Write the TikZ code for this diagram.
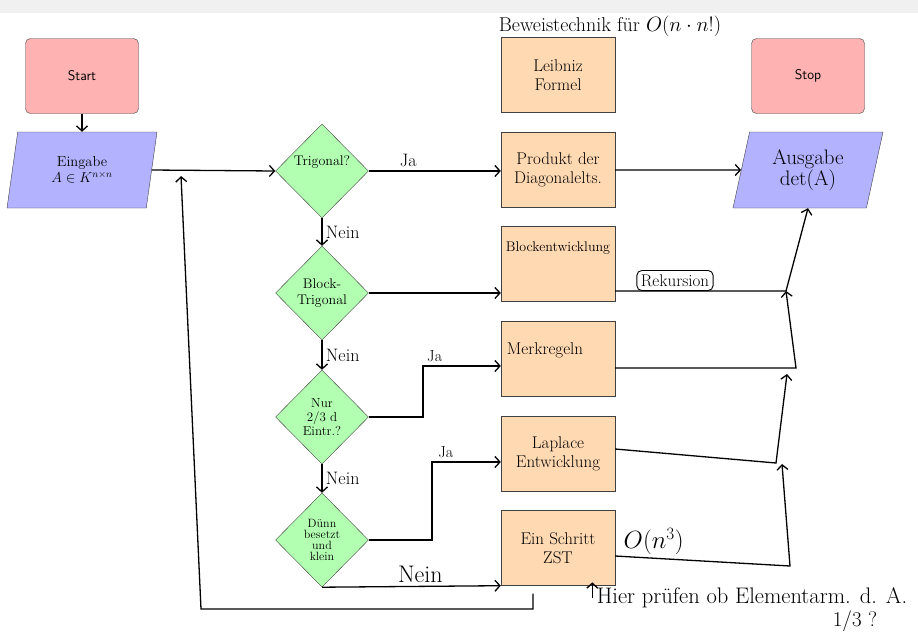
\documentclass[tikz,border=0pt]{standalone}
\usetikzlibrary{shapes.geometric,arrows.meta,positioning}
\newcommand{\hand}[2][1.1]{\fontsize{#2}{#1\dimexpr#2pt\relax}\selectfont}
\newcommand{\liftup}[2]{\smash{\raisebox{#1}{#2}}}
\begin{document}
\begin{tikzpicture}[x=1pt,y=-1pt,>={Straight Barb[length=5pt,width=11pt]},
  startstop/.style={draw=black!75,fill=red!30,rounded corners=5pt,minimum width=113pt,minimum height=75pt,font=\sffamily\hand{14}},
  io/.style={draw=black!75,fill=blue!30,trapezium,trapezium left angle=68,trapezium right angle=112,trapezium stretches body,minimum width=150pt,minimum height=76pt,inner sep=0pt,align=center},
  decision/.style={draw=black!75,fill=green!30,diamond,minimum width=93pt,minimum height=94pt,inner sep=-6pt,align=center},
  process/.style={draw=black!75,fill=orange!30,minimum width=114pt,minimum height=75pt,align=center,font=\hand{17}},
  conn/.style={line width=1.3pt}]
\useasboundingbox (0,0) rectangle (918,633);
\fill[black!6] (0,0) rectangle (918,13);
\node[startstop] (start) at (82,76) {Start};
\node[startstop] (stop) at (808,76) {Stop};
\node[io,font=\hand{14.5}] (eingabe) at (82,170) {Eingabe\\$A\in K^{n\times n}$};
\node[io,font={\hand[1]{21}}] (ausgabe) at (808,170) {Ausgabe\\det(A)};
\node[decision,font=\hand{14}] (trig) at (322,171) {\liftup{6pt}{Trigonal?}};
\node[decision,font={\hand[1.15]{14}}] (bt) at (322,293) {Block-\\Trigonal};
\node[decision,font={\hand[1.05]{13}}] (nur) at (322,417) {Nur\\2/3 d\\Eintr.?};
\node[decision,font={\hand[0.9]{12}}] (duenn) at (322,540) {Dünn\\besetzt\\und\\klein};
\node[process] (leibniz) at (558,75) {Leibniz\\Formel};
\node[process] (produkt) at (558,170) {Produkt der\\Diagonalelts.};
\node[process] (blockentw) at (558,264) {\liftup{13pt}{\hand{14}Blockentwicklung}};
\node[process] (merk) at (558,359) {\liftup{5pt}{Merkregeln\kern26pt}};
\node[process] (laplace) at (558,454) {Laplace\\Entwicklung};
\node[process] (schritt) at (558,548) {Ein Schritt\\ZST};
\node[font=\hand{20}] (beweis) at (610,26) {Beweistechnik für $O(n\cdot n!)$};
\node[font=\hand{22.5}] (hinweis) at (752,598) {Hier prüfen ob Elementarm. d. A.};
\node[font=\hand{21}] (drittel) at (855,621) {1/3 ?};
\coordinate (back) at (181,176);
\coordinate (b1) at (201,609);
\coordinate (j2) at (423,366);
\coordinate (j3) at (432,462);
\coordinate (k1) at (786,291);
\coordinate (k2) at (787,374);
\coordinate (k3) at (782,464);
\coordinate (m1) at (796,368);
\coordinate (m2) at (776,463);
\coordinate (m3) at (790,566);
\draw[conn,->] (start) -- (eingabe);
\draw[conn,->] (eingabe.east) -- (trig.west);
\draw[conn,->] (trig.east) -- node[above,pos=0.3,font=\hand{18}] {Ja} (trig.east -| produkt.west);
\draw[conn,->] (trig) -- node[right,font=\hand{18}] {Nein} (bt);
\draw[conn,->] (bt.east) -- (bt.east -| blockentw.west);
\draw[conn,->] (bt) -- node[right,font=\hand{18}] {Nein} (nur);
\draw[conn,->] (nur.east) -| (j2) -- node[above,pos=0.15,font=\hand{16}] {Ja} (j2 -| merk.west);
\draw[conn,->] (nur) -- node[right,font=\hand{18}] {Nein} (duenn);
\draw[conn,->] (duenn.east) -| (j3) -- node[above,pos=0.2,font=\hand{16}] {Ja} (j3 -| laplace.west);
\draw[conn,->] (duenn.south) -- node[above,pos=0.55,font=\hand{24}] {Nein} (schritt.south west);
\draw[conn,->] (produkt) -- (ausgabe);
\draw[conn,->] (k1 -| blockentw.east) -- node[above,pos=0.35,draw,line width=0.9pt,rounded corners=5pt,inner sep=4pt,font=\hand{17}] (rekursion) {Rekursion} (k1) -- (ausgabe.south);
\draw[conn,->] ([yshift=-9pt]merk.east) -- (m1) -- (k1);
\draw[conn,->] ([yshift=5pt]laplace.east) -- (m2) -- (k2);
\draw[conn,->] ([yshift=-8pt]schritt.east) -- node[above,pos=0.22,font=\hand{26}] {$O(n^3)$} (m3) -- (k3);
\draw[conn,->] ([xshift=-25pt,yshift=-8pt]schritt.south) |- (b1) -- (back);
\draw[conn,->] ([xshift=-1pt]hinweis.west) -- ([xshift=-1pt,yshift=2pt]hinweis.north west);
\end{tikzpicture}
\end{document}
